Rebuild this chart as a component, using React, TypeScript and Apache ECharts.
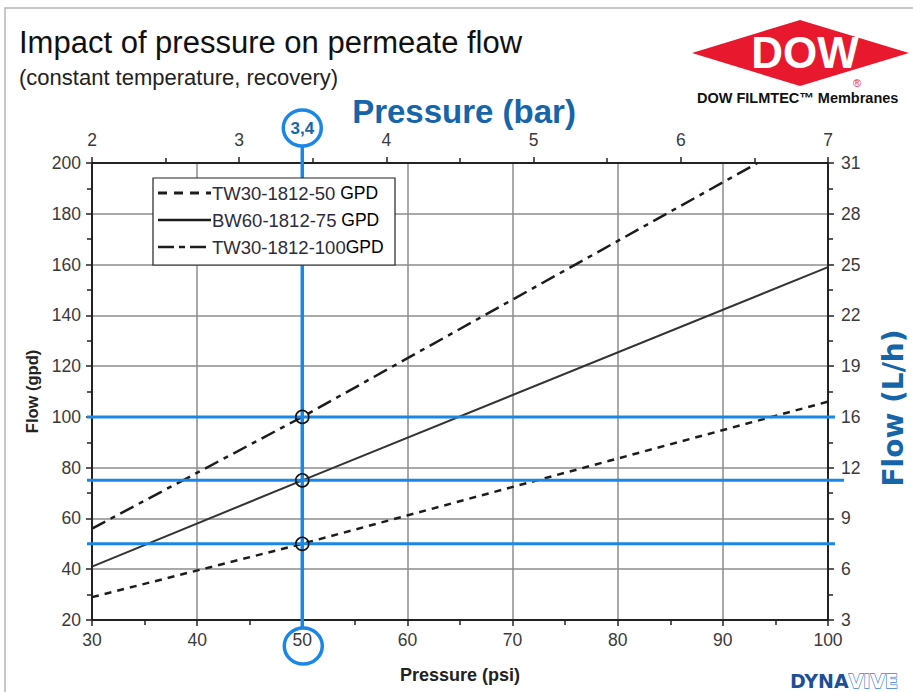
import React, { useEffect, useRef } from "react";
import * as echarts from "echarts";

// ---- data ----
const seriesNames = ["TW30-1812-50", "BW60-1812-75", "TW30-1812-100"];
const seriesUnit = "GPD";
const tw50Psi = [30, 50, 100];
const tw50Gpd = [29, 50, 106];
const bw75Psi = [30, 50, 100];
const bw75Gpd = [41, 75, 159];
const tw100Psi = [30, 50, 93.3];
const tw100Gpd = [56, 100, 200];
const flowLhLabels = ["3", "6", "9", "12", "16", "19", "22", "25", "28", "31"];
const designPsi = 50;
const designBarLabel = "3,4";
const targetFlowsGpd = [50, 75, 100];

export default function App() {
  const ref = useRef<HTMLDivElement>(null);
  useEffect(() => {
    const chart = echarts.init(ref.current!, null, { renderer: "svg" });
    const font = "'Liberation Sans', Arial, sans-serif";
    const narrow = "'Liberation Sans Narrow', 'Liberation Sans', Arial, sans-serif";
    const ink = "#1c1c1c";
    const blue = "#1a87e6";
    const axisLineStyle = { color: "#222", width: 2 };
    const tickStyle = { color: "#222", width: 1.5 };
    const labelStyle = { color: "#3a3a3a", fontSize: 17.5, fontFamily: narrow };

    const option: any = {
      animation: false,
      backgroundColor: "#ffffff",
      grid: { left: 92, right: 85, top: 163, bottom: 72 },
      xAxis: [
        {
          type: "value", min: 30, max: 100, interval: 10, position: "bottom",
          name: "Pressure (psi)", nameLocation: "middle", nameGap: 46,
          nameTextStyle: { color: "#222", fontSize: 18, fontWeight: "bold", fontFamily: narrow },
          axisLine: { show: true, onZero: false, lineStyle: axisLineStyle },
          axisTick: { show: true, length: 6, lineStyle: tickStyle },
          minorTick: { show: true, splitNumber: 2, length: 5, lineStyle: tickStyle },
          splitLine: { show: true, lineStyle: { color: "#8c8c8c", width: 1.5 } },
          axisLabel: { ...labelStyle, margin: 11 },
        },
        {
          type: "value", min: 2, max: 7, interval: 1, position: "top",
          axisLine: { show: true, onZero: false, lineStyle: axisLineStyle },
          axisTick: { show: true, length: 6, lineStyle: tickStyle },
          minorTick: { show: true, splitNumber: 2, length: 5, lineStyle: tickStyle },
          splitLine: { show: false },
          axisLabel: { ...labelStyle, margin: 14 },
        },
      ],
      yAxis: [
        {
          type: "value", min: 20, max: 200, interval: 20, position: "left",
          name: "Flow (gpd)", nameLocation: "middle", nameGap: 52,
          nameTextStyle: { color: "#222", fontSize: 16.5, fontWeight: "bold", fontFamily: narrow },
          axisLine: { show: true, onZero: false, lineStyle: axisLineStyle },
          axisTick: { show: true, length: 6, lineStyle: tickStyle },
          minorTick: { show: true, splitNumber: 2, length: 5, lineStyle: tickStyle },
          splitLine: { show: true, lineStyle: { color: "#8c8c8c", width: 1.5 } },
          axisLabel: { ...labelStyle, margin: 11 },
        },
        {
          type: "value", min: 20, max: 200, interval: 20, position: "right",
          axisLine: { show: true, onZero: false, lineStyle: axisLineStyle },
          axisTick: { show: true, length: 6, lineStyle: tickStyle },
          minorTick: { show: true, splitNumber: 2, length: 5, lineStyle: tickStyle },
          splitLine: { show: false },
          axisLabel: {
            ...labelStyle, margin: 13,
            formatter: (v: number) => flowLhLabels[Math.round((v - 20) / 20)] ?? "",
          },
        },
      ],
      series: [
        {
          name: seriesNames[0], type: "line", xAxisIndex: 0, yAxisIndex: 0,
          data: tw50Psi.map((p, i) => [p, tw50Gpd[i]]), symbol: "none", z: 3,
          lineStyle: { color: ink, width: 2.5, type: [7, 6] },
        },
        {
          name: seriesNames[1], type: "line", xAxisIndex: 0, yAxisIndex: 0,
          data: bw75Psi.map((p, i) => [p, bw75Gpd[i]]), symbol: "none", z: 3,
          lineStyle: { color: "#333", width: 2 },
        },
        {
          name: seriesNames[2], type: "line", xAxisIndex: 0, yAxisIndex: 0,
          data: tw100Psi.map((p, i) => [p, tw100Gpd[i]]), symbol: "none", z: 3,
          lineStyle: { color: ink, width: 2.5, type: [15, 6, 5, 6] },
        },
      ],
    };
    chart.setOption(option);

    const px = (v: number) => chart.convertToPixel({ xAxisIndex: 0 }, v) as number;
    const py = (v: number) => chart.convertToPixel({ yAxisIndex: 0 }, v) as number;
    const xL = px(30), xR = px(100);
    const xd = px(designPsi);

    const g: any[] = [];
    // frame
    g.push({ type: "rect", shape: { x: 5, y: 8, width: 930, height: 700 }, style: { fill: "none", stroke: "#b5b5b5", lineWidth: 1.5 }, z: 1 });
    // titles
    g.push({ type: "text", x: 19, y: 42, style: { text: "Impact of pressure on permeate flow", fill: "#111", font: `31px ${font}`, verticalAlign: "middle" } });
    g.push({ type: "text", x: 19, y: 77, style: { text: "(constant temperature, recovery)", fill: "#222", font: `22px ${font}`, verticalAlign: "middle" } });
    // DOW logo
    g.push({ type: "polygon", shape: { points: [[692, 53], [800, 20], [909, 53], [800, 86]] }, style: { fill: "#e8192f" } });
    g.push({ type: "text", x: 805, y: 52, style: { text: "DOW", fill: "#fff", font: `bold 44px ${font}`, align: "center", verticalAlign: "middle" } });
    g.push({ type: "text", x: 857, y: 83, style: { text: "®", fill: "#e8192f", font: `11px ${font}`, align: "center", verticalAlign: "middle" } });
    g.push({ type: "text", x: 697, y: 98, style: { text: "DOW FILMTEC™ Membranes", fill: "#111", font: `bold 14.5px ${font}`, verticalAlign: "middle" } });
    // axis titles in blue
    g.push({ type: "text", x: 464, y: 111, style: { text: "Pressure (bar)", fill: "#1565a8", font: `bold 33px ${font}`, align: "center", verticalAlign: "middle" } });
    g.push({ type: "text", x: 893, y: 408, rotation: Math.PI / 2, style: { text: "Flow (L/h)", fill: "#1565a8", font: `bold 28px 'DejaVu Sans', ${font}`, align: "center", verticalAlign: "middle" } });
    // Dynavive
    g.push({
      type: "text", x: 844, y: 681,
      style: {
        text: "{a|DYNA}{b|VIVE}", align: "center", verticalAlign: "middle",
        rich: {
          a: { fill: "#1d4f98", font: `bold 19px 'DejaVu Sans', ${font}` },
          b: { fill: "#ffffff", stroke: "#3a86d0", lineWidth: 1.3, font: `bold 19px 'DejaVu Sans', ${font}` },
        },
      },
    });
    // blue guide lines
    targetFlowsGpd.forEach((f, i) => {
      const y = py(f);
      g.push({ type: "line", shape: { x1: xL - 5, y1: y, x2: xR + (i === 1 ? 16 : 7), y2: y }, style: { stroke: blue, lineWidth: 3 }, z: 50 });
    });
    g.push({ type: "line", shape: { x1: xd, y1: 146, x2: xd, y2: 628 }, style: { stroke: blue, lineWidth: 3.5 }, z: 50 });
    // label circles
    g.push({ type: "ellipse", shape: { cx: xd, cy: 128, rx: 19, ry: 18 }, style: { fill: "#fff", stroke: blue, lineWidth: 3.5 }, z: 51 });
    g.push({ type: "text", x: xd, y: 128, style: { text: designBarLabel, fill: "#1565a8", font: `bold 17px ${font}`, align: "center", verticalAlign: "middle" }, z: 52 });
    g.push({ type: "ellipse", shape: { cx: xd + 1, cy: 646, rx: 19, ry: 18 }, style: { fill: "none", stroke: blue, lineWidth: 3.5 }, z: 51 });
    // intersection circles
    targetFlowsGpd.forEach((f) => {
      g.push({ type: "circle", shape: { cx: xd, cy: py(f), r: 6.5 }, style: { fill: "none", stroke: "#111", lineWidth: 1.6 }, z: 60 });
    });
    // legend
    const lx = 153, ly = 178;
    g.push({ type: "rect", shape: { x: lx, y: ly, width: 242, height: 87 }, style: { fill: "#fff", stroke: "#222", lineWidth: 1.2 }, z: 70 });
    const dashes: any[] = [[9, 7], null, [16, 5, 6, 5]];
    const widths = [3, 2.5, 2.5];
    seriesNames.forEach((n, i) => {
      const y = ly + 15 + i * 27;
      g.push({ type: "line", shape: { x1: lx + 5, y1: y, x2: lx + 58, y2: y }, style: { stroke: ink, lineWidth: widths[i], lineDash: dashes[i] }, z: 71 });
      g.push({
        type: "text", x: lx + 59, y: y, z: 71,
        style: {
          text: `{n|${n}}{u|${i === 2 ? "" : " "}${seriesUnit}}`, verticalAlign: "middle",
          rich: {
            n: { fill: "#2c2c3c", font: `18.5px ${font}` },
            u: { fill: "#000", font: `17.5px ${font}` },
          },
        },
      });
    });

    chart.setOption({ graphic: g });
    return () => chart.dispose();
  }, []);
  return <div ref={ref} style={{ position: "absolute", left: 0, top: 0, width: 913, height: 692 }} />;
}
